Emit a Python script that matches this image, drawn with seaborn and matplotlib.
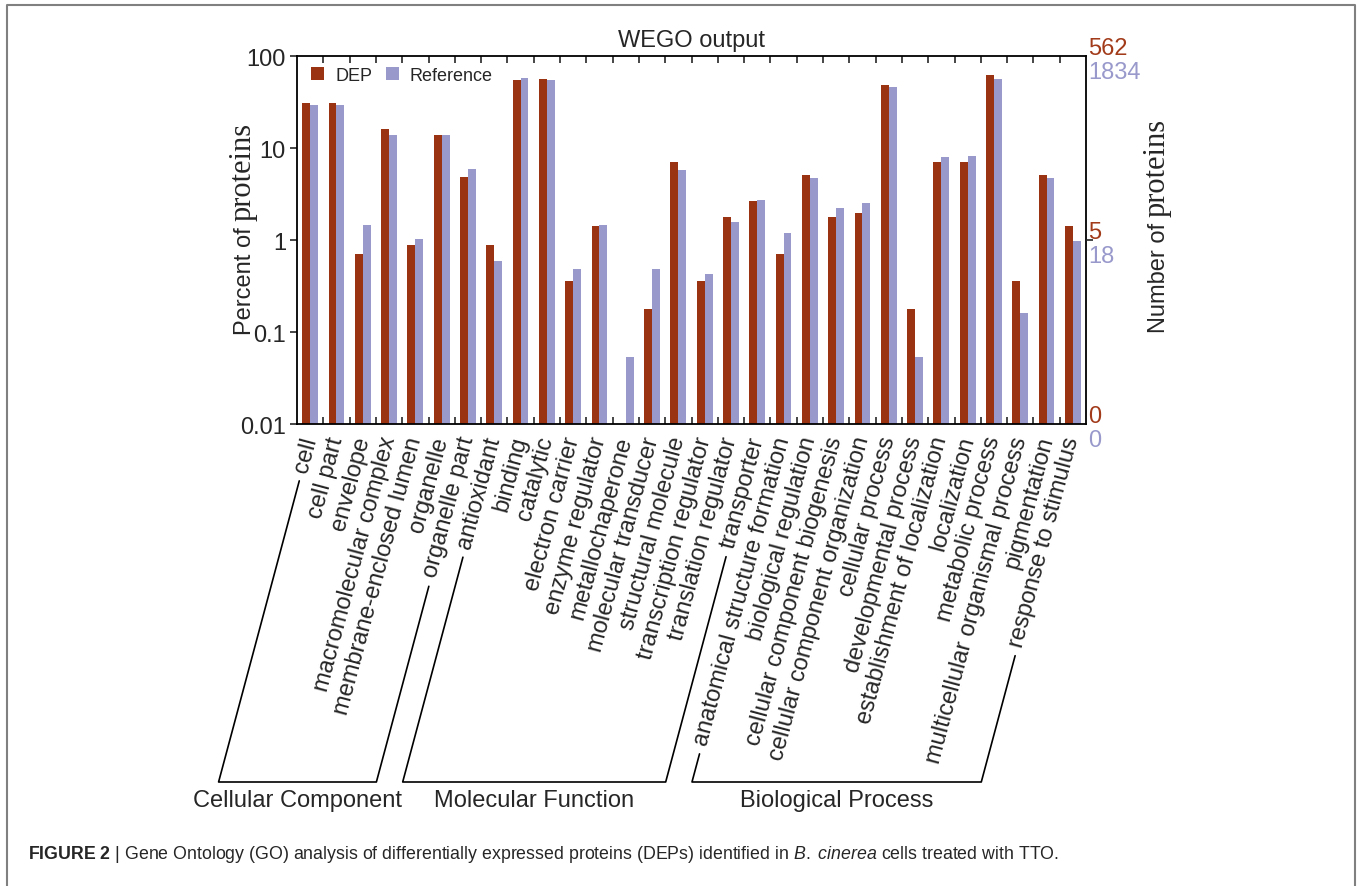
import numpy as np
import pandas as pd
import seaborn as sns
import matplotlib.pyplot as plt
from matplotlib.lines import Line2D
from matplotlib.ticker import FixedLocator, NullLocator, NullFormatter

# GO terms, in plot order
categories = [
    'cell', 'cell part', 'envelope', 'macromolecular complex', 'membrane-enclosed lumen',
    'organelle', 'organelle part',
    'antioxidant', 'binding', 'catalytic', 'electron carrier', 'enzyme regulator',
    'metallochaperone', 'molecular transducer', 'structural molecule',
    'transcription regulator', 'translation regulator', 'transporter',
    'anatomical structure formation', 'biological regulation', 'cellular component biogenesis',
    'cellular component organization', 'cellular process', 'developmental process',
    'establishment of localization', 'localization', 'metabolic process',
    'multicellular organismal process', 'pigmentation', 'response to stimulus',
]
# percent of proteins
dep_pct = [30.8, 30.8, 0.71, 16.0, 0.89, 13.7, 4.8,
           0.89, 54.8, 56.2, 0.36, 1.42, 0, 0.18, 7.1, 0.36, 1.78, 2.67,
           0.71, 5.1, 1.78, 1.96, 48.4, 0.18, 7.1, 7.1, 61.6, 0.36, 5.1, 1.42]
ref_pct = [29.6, 29.6, 1.44, 13.7, 1.03, 13.7, 5.86,
           0.59, 57.7, 54.8, 0.49, 1.44, 0.054, 0.49, 5.72, 0.43, 1.56, 2.74,
           1.19, 4.76, 2.25, 2.52, 46.4, 0.054, 8.05, 8.26, 56.7, 0.16, 4.72, 0.97]
groups = ['Cellular Component', 'Molecular Function', 'Biological Process']
group_sizes = [7, 11, 12]

left_ticks = [0.01, 0.1, 1, 10, 100]
left_labels = ['0.01', '0.1', '1', '10', '100']
right_levels = [100, 1, 0.01]
right_dep = ['562', '5', '0']
right_ref = ['1834', '18', '0']

DEP_C = '#993311'
REF_C = '#9999cc'
FS = 17

sns.set_style('ticks')
plt.rcParams['font.family'] = ['Liberation Sans', 'DejaVu Sans']
plt.rcParams['mathtext.fontset'] = 'custom'
plt.rcParams['mathtext.rm'] = 'Liberation Sans'
plt.rcParams['mathtext.it'] = 'Liberation Sans:italic'
plt.rcParams['mathtext.bf'] = 'Liberation Sans:bold'

df = pd.DataFrame({
    'term': categories * 2,
    'pct': dep_pct + ref_pct,
    'set': ['DEP'] * len(categories) + ['Reference'] * len(categories),
})

W, H = 1357, 887
fig = plt.figure(figsize=(W / 100, H / 100), dpi=100)
ax = fig.add_axes([297 / W, 1 - 425 / H, (1086 - 297) / W, (425 - 57) / H])

sns.barplot(data=df, x='term', y='pct', hue='set', palette=[DEP_C, REF_C],
            saturation=1, width=0.6, errorbar=None, linewidth=0, ax=ax)
ax.set_yscale('log')
ax.set_ylim(0.01, 100)
ax.set_xlim(-0.5, len(categories) - 0.5)

n = len(categories)
ax.yaxis.set_major_locator(FixedLocator(left_ticks))
ax.yaxis.set_minor_locator(NullLocator())
ax.set_yticklabels(left_labels)
ax.tick_params(axis='y', direction='out', length=5, width=1.2, labelsize=FS, pad=3)
ax.xaxis.set_major_locator(FixedLocator(list(range(n))))
ax.set_xticklabels(categories, rotation=75, ha='right', va='center', rotation_mode='anchor')
ax.xaxis.set_minor_locator(FixedLocator([i + 0.5 for i in range(n - 1)]))
ax.tick_params(axis='x', which='major', length=0, pad=9, labelsize=FS)
ax.tick_params(axis='x', which='minor', direction='in', length=5, width=1.2, top=True, bottom=True)
ax.set_xlabel('')
ax.set_ylabel('')
for sp in ax.spines.values():
    sp.set_visible(True)
    sp.set_linewidth(1.3)
    sp.set_color('black')

ax.set_title('WEGO output', fontsize=FS, pad=7)

h, l = ax.get_legend_handles_labels()
ax.legend(h, l, loc='upper left', bbox_to_anchor=(0.018, 0.97), ncol=2, frameon=False,
          fontsize=13, handlelength=0.72, handleheight=0.72, handletextpad=0.6,
          columnspacing=0.75, borderpad=0, borderaxespad=0)

# right-hand axis (number of proteins)
ax2 = ax.twinx()
ax2.set_yscale('log')
ax2.set_ylim(0.01, 100)
ax2.yaxis.set_major_locator(FixedLocator([1]))
ax2.yaxis.set_minor_locator(NullLocator())
ax2.yaxis.set_major_formatter(NullFormatter())
ax2.tick_params(axis='y', direction='out', length=5, width=1.2)
for sp in ax2.spines.values():
    sp.set_visible(False)
for lev, a, b in zip(right_levels, right_dep, right_ref):
    ax.annotate(a, xy=(1, lev), xycoords=('axes fraction', 'data'), xytext=(1.5, 6),
                textcoords='offset points', ha='left', va='center', color='#a23b1a', fontsize=FS)
    ax.annotate(b, xy=(1, lev), xycoords=('axes fraction', 'data'), xytext=(1.5, -11.5),
                textcoords='offset points', ha='left', va='center', color=REF_C, fontsize=FS)

fig.canvas.draw()
renderer = fig.canvas.get_renderer()


def axis_title(x_base, y_start, first):
    # sans-serif words followed by a larger serif "proteins", read bottom to top
    t1 = fig.text(x_base / W, (H - y_start) / H, first, rotation=90, rotation_mode='anchor',
                  ha='left', va='baseline', fontsize=FS)
    top = t1.get_window_extent(renderer).y1
    fig.text(x_base / W, (top + 6) / H, 'proteins', rotation=90, rotation_mode='anchor',
             ha='left', va='baseline', fontsize=22, family='Liberation Serif')


axis_title(251, 335, 'Percent of')
axis_title(1165, 333, 'Number of')

# group brackets under the term labels
labels = ax.get_xticklabels()
yb = H - 783
tan75 = np.tan(np.radians(75))


def leg(i):
    bb = labels[i].get_window_extent(renderer)
    xs, ys = bb.x0 + 9, bb.y0 - 7
    xb = xs - (ys - yb) / tan75
    return xs, ys, xb


start = 0
for name, size in zip(groups, group_sizes):
    xs0, ys0, xb0 = leg(start)
    xs1, ys1, xb1 = leg(start + size - 1)
    fig.add_artist(Line2D([xs0 / W, xb0 / W, xb1 / W, xs1 / W],
                          [ys0 / H, yb / H, yb / H, ys1 / H],
                          transform=fig.transFigure, color='black', lw=1.2))
    fig.text((xb0 + xb1) / 2 / W, (H - 801) / H, name, ha='center', va='center', fontsize=FS)
    start += size

fig.text(28 / W, 1 - 855 / H,
         r'$\mathbf{FIGURE\ 2}$ | Gene Ontology (GO) analysis of differentially expressed proteins '
         r'(DEPs) identified in $\mathit{B.}$ $\mathit{cinerea}$ cells treated with TTO.',
         ha='left', va='center', fontsize=12.8)

# figure frame (open at the bottom)
fig.add_artist(Line2D([7 / W, 7 / W, 1355 / W, 1355 / W], [0, 1 - 6 / H, 1 - 6 / H, 0],
                      transform=fig.transFigure, color='#808080', lw=1.5))

fig.savefig('out.png', dpi=100)
